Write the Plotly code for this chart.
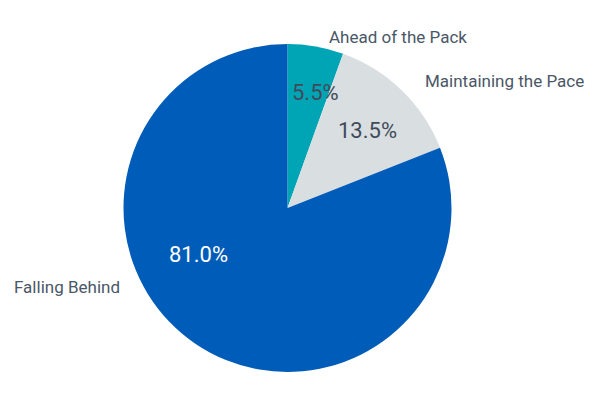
import plotly.graph_objects as go

categories = ["Ahead of the Pack", "Maintaining the Pace", "Falling Behind"]
values = [5.5, 13.5, 81.0]
colors = ["#00a5b5", "#d9dee1", "#005cb9"]
text_colors = ["#3f4b5b", "#3f4b5b", "#ffffff"]

# page has an 8px body margin, so the figure is sized to fill the rest
OFF = 8
W, H = 600 - OFF, 401 - OFF
ML, MR, MT, MB = 0, 33, 36, 29
PW, PH = W - ML - MR, H - MT - MB


def to_paper(px, py):
    return (px - OFF - ML) / PW, (H - MB - (py - OFF)) / PH


fig = go.Figure()
fig.add_trace(go.Pie(
    labels=categories,
    values=values,
    sort=False,
    direction="clockwise",
    rotation=0,
    marker=dict(colors=colors, line=dict(color="#ffffff", width=0)),
    textinfo="none",
    showlegend=False,
    hoverinfo="label+percent",
))

total = sum(values)
# percentage labels inside slices
pct_px = {
    "Ahead of the Pack": (315, 92),
    "Maintaining the Pace": (367, 130),
    "Falling Behind": (198, 254),
}
for name, v, tc in zip(categories, values, text_colors):
    x, y = to_paper(*pct_px[name])
    fig.add_annotation(
        x=x, y=y, xref="paper", yref="paper",
        text=f"{v / total * 100:.1f}%", showarrow=False,
        xanchor="center", yanchor="middle",
        font=dict(family="Roboto", size=22, color=tc),
    )

# outside category labels
label_px = {
    "Ahead of the Pack": (327, 37, "left"),
    "Maintaining the Pace": (423, 81, "left"),
    "Falling Behind": (122, 287, "right"),
}
for name in categories:
    px, py, anchor = label_px[name]
    x, y = to_paper(px, py)
    fig.add_annotation(
        x=x, y=y, xref="paper", yref="paper",
        text=name, showarrow=False,
        xanchor=anchor, yanchor="middle",
        font=dict(family="Roboto", size=17, color="#4a5767"),
    )

fig.update_layout(
    width=W, height=H,
    margin=dict(l=ML, r=MR, t=MT, b=MB),
    paper_bgcolor="#ffffff",
    plot_bgcolor="#ffffff",
)

fig.write_html("out.html")
